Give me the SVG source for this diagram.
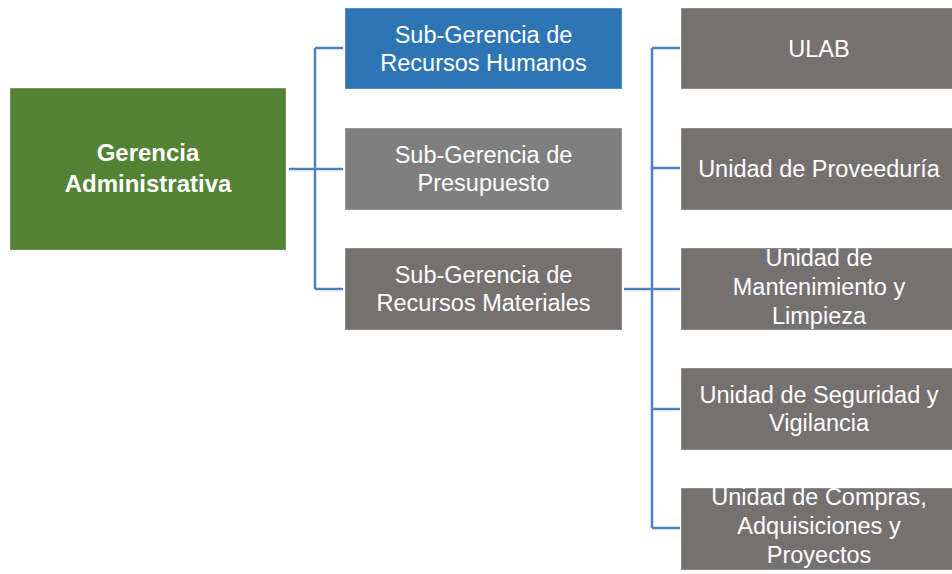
<svg xmlns="http://www.w3.org/2000/svg" width="952" height="574" viewBox="0 0 952 574">
<style>
text{font-family:"Liberation Sans",Arial,sans-serif;font-size:23.5px;fill:#fff;text-anchor:middle}
.b{font-weight:bold;font-size:24px}
.box{stroke:#fff;stroke-opacity:0.35;stroke-width:1}
.g{fill:#548235}.bl{fill:#2E75B6}.m{fill:#7F7F7F}.d{fill:#767171}
.c{fill:none;stroke:#4F81BD;stroke-width:2.5}
</style>
<rect width="952" height="574" fill="#fff"/>
<g id="connectors">
<path class="c" d="M289 169H315M315 48V289M315 48H343M315 169H343M315 289H343"/>
<path class="c" d="M624 289H652M652 48V528M652 48H680M652 168H680M652 289H680M652 409H680M652 528H680"/>
</g>
<g id="gerencia">
<rect class="box g" x="10" y="88" width="276" height="162"/>
<text class="b" x="148" y="161">Gerencia</text>
<text class="b" x="148" y="192">Administrativa</text>
</g>
<g id="rrhh">
<rect class="box bl" x="345" y="8" width="277" height="81"/>
<text x="483.5" y="43">Sub-Gerencia de</text>
<text x="483.5" y="71">Recursos Humanos</text>
</g>
<g id="presupuesto">
<rect class="box m" x="345" y="128" width="277" height="82"/>
<text x="483.5" y="163">Sub-Gerencia de</text>
<text x="483.5" y="191">Presupuesto</text>
</g>
<g id="rrmm">
<rect class="box d" x="345" y="248" width="277" height="82"/>
<text x="483.5" y="283">Sub-Gerencia de</text>
<text x="483.5" y="311">Recursos Materiales</text>
</g>
<g id="ulab">
<rect class="box d" x="681" y="8" width="276" height="81"/>
<text x="819" y="57">ULAB</text>
</g>
<g id="proveeduria">
<rect class="box d" x="681" y="128" width="276" height="82"/>
<text x="819" y="177">Unidad de Proveeduría</text>
</g>
<g id="mantenimiento">
<rect class="box d" x="681" y="248" width="276" height="82"/>
<text x="819" y="266">Unidad de</text>
<text x="819" y="295">Mantenimiento y</text>
<text x="819" y="324">Limpieza</text>
</g>
<g id="seguridad">
<rect class="box d" x="681" y="368" width="276" height="82"/>
<text x="819" y="403">Unidad de Seguridad y</text>
<text x="819" y="431">Vigilancia</text>
</g>
<g id="compras">
<rect class="box d" x="681" y="488" width="276" height="82"/>
<text x="819" y="505">Unidad de Compras,</text>
<text x="819" y="534">Adquisiciones y</text>
<text x="819" y="563">Proyectos</text>
</g>
</svg>
